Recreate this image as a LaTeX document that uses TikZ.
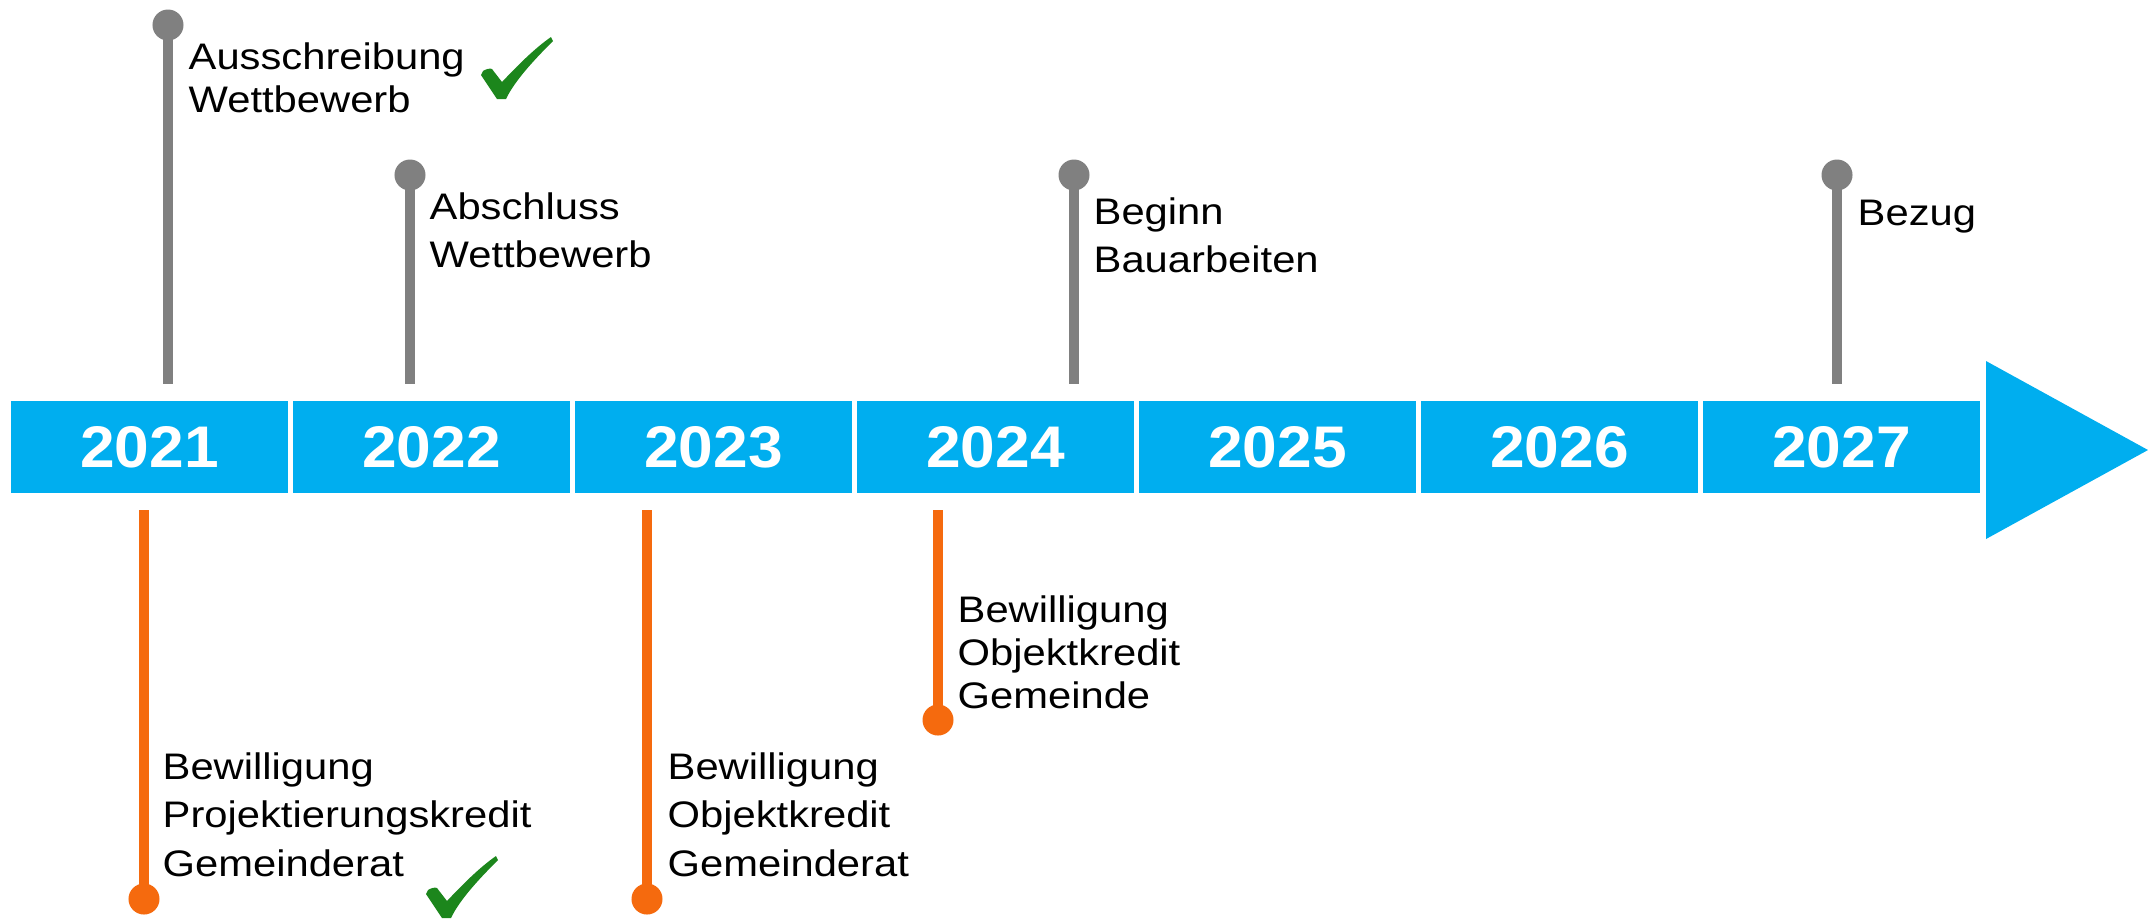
\documentclass[tikz,border=0pt]{standalone}
\usepackage{fontspec}
\setmainfont{Liberation Sans}[FakeStretch=1.13]
\newfontfamily\yearfont{Liberation Sans}[FakeStretch=1.06]

\definecolor{barblue}{RGB}{0,174,239}
\definecolor{pingray}{RGB}{128,128,128}
\definecolor{pinorange}{RGB}{245,106,14}
\definecolor{hakengreen}{RGB}{28,134,28}

\tikzset{
    yearbox/.style={fill=barblue, text=white, minimum width=2.77cm, minimum height=0.92cm, inner sep=0pt,
        font=\yearfont\bfseries\fontsize{16.7pt}{18pt}\selectfont},
    pinhead/.style={circle, fill=#1, minimum size=0.31cm, inner sep=0pt},
    pinline/.style={draw=#1, line width=3pt},
    msgtext/.style={anchor=base west, align=left, inner sep=0pt, font=\fontsize{10.5pt}{#1}\selectfont},
    msgtext/.default=13.4pt,
    haken/.pic={\fill[hakengreen] (-2,0) -- (-18,-24) -- (-16,-28) .. controls (-13,-30) and (-9,-31) .. (-7,-30)
        -- (3,-17) .. controls (18,-33) and (36,-51) .. (52,-62) -- (54,-58)
        .. controls (37,-41) and (16,-19) .. (7,0) -- cycle;}
}

\begin{document}
\begin{tikzpicture}[x=0.01cm, y=-0.01cm]
    \useasboundingbox (0,0) rectangle (2148,920);
    \foreach \y [count=\i from 0] in {2021,2022,2023,2024,2025,2026,2027}
        \node[yearbox] (y\y) at ({149.5+282*\i},447) {\y};
    \fill[barblue] (1986,361) -- (2148,450) -- (1986,539) -- cycle;

    \node[pinhead=pingray] (a21) at (168,25) {};
    \node[pinhead=pingray] (a22) at (410,175) {};
    \node[pinhead=pingray] (a24) at (1074,175) {};
    \node[pinhead=pingray] (a27) at (1837,175) {};
    \coordinate (a21e) at (168,384);
    \coordinate (a22e) at (410,384);
    \coordinate (a24e) at (1074,384);
    \coordinate (a27e) at (1837,384);
    \draw[pinline=pingray] (a21.center) -- (a21e);
    \draw[pinline=pingray] (a22.center) -- (a22e);
    \draw[pinline=pingray] (a24.center) -- (a24e);
    \draw[pinline=pingray] (a27.center) -- (a27e);

    \node[pinhead=pinorange] (b21) at (144,899) {};
    \node[pinhead=pinorange] (b23) at (647,899) {};
    \node[pinhead=pinorange] (b24) at (938,720) {};
    \coordinate (b21s) at (144,510);
    \coordinate (b23s) at (647,510);
    \coordinate (b24s) at (938,510);
    \draw[pinline=pinorange, line width=2.8pt] (b21s) -- (b21.center);
    \draw[pinline=pinorange, line width=2.8pt] (b23s) -- (b23.center);
    \draw[pinline=pinorange, line width=2.8pt] (b24s) -- (b24.center);

    \node[msgtext=11.95pt] (ta21) at (188,112) {Ausschreibung\\Wettbewerb};
    \node[msgtext] (ta22) at (429,267) {Abschluss\\Wettbewerb};
    \node[msgtext] (ta24) at (1093,272) {Beginn\\Bauarbeiten};
    \node[msgtext] (ta27) at (1857,225) {Bezug};
    \node[msgtext=13.66pt] (tb21) at (162,876) {Bewilligung\\Projektierungskredit\\Gemeinderat};
    \node[msgtext=13.66pt] (tb23) at (667,876) {Bewilligung\\Objektkredit\\Gemeinderat};
    \node[msgtext=12.1pt] (tb24) at (957,708) {Bewilligung\\Objektkredit\\Gemeinde};

    \pic at (499,99) {haken};
    \pic at (444,918) {haken};
\end{tikzpicture}
\end{document}
